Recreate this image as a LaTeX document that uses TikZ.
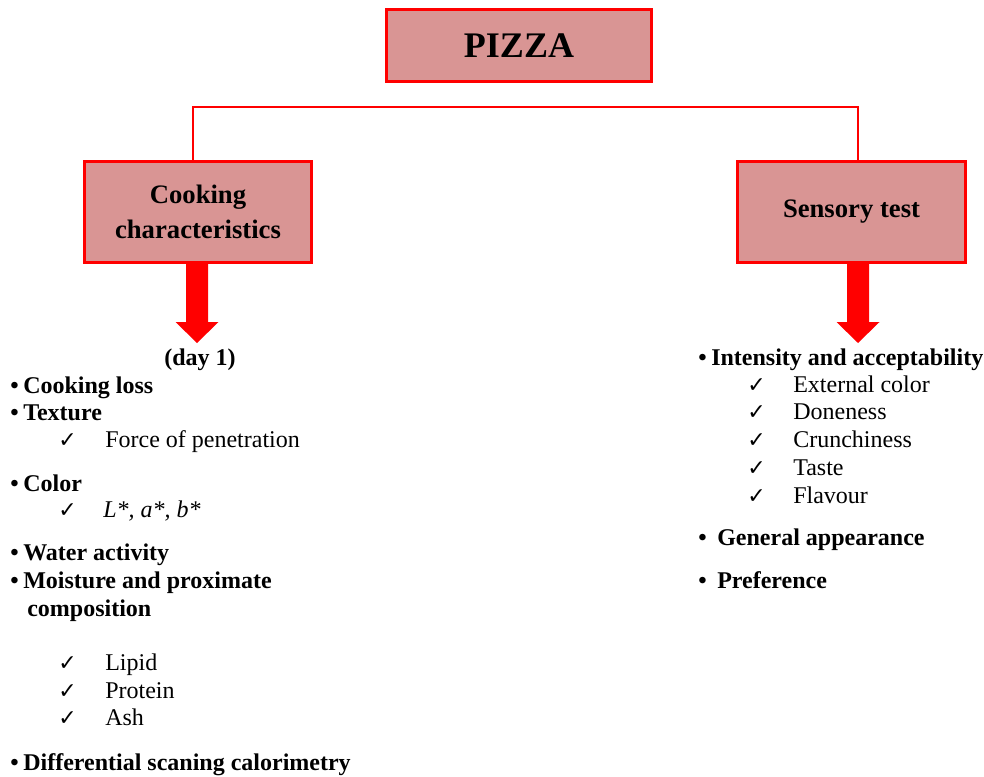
\documentclass[tikz,border=0pt]{standalone}
\usepackage{fontspec}
\setmainfont{Liberation Serif}
\newfontfamily\symfont{DejaVu Sans}
\usetikzlibrary{calc}
\definecolor{boxfill}{HTML}{D99594}
\definecolor{linered}{HTML}{FF0000}
\begin{document}
\begin{tikzpicture}[x=0.75pt,y=-0.75pt,
  topbox/.style={draw=linered, line width=2.25pt, fill=boxfill, inner sep=0pt, align=center,
    font=\bfseries\fontsize{20}{26.25}\selectfont},
  link/.style={draw=linered, line width=1.5pt},
  head/.style={anchor=base west, inner sep=0pt, font=\bfseries\fontsize{18}{21}\selectfont},
  item/.style={anchor=base west, inner sep=0pt, font=\fontsize{18}{21}\selectfont},
  tick/.style={anchor=base west, inner sep=0pt, font=\symfont\fontsize{16.5}{18}\selectfont},
  dot/.style={anchor=base west, inner sep=0pt, font=\bfseries\fontsize{18}{21}\selectfont},
  pics/downarr/.style={code={
    \fill[linered] (-11,0) -- (11,0) -- (11,58) -- (21.5,58) -- (0,79)
      -- (-21.5,58) -- (-11,58) -- cycle;}},
]
\useasboundingbox (0,0) rectangle (984,777);

% boxes
\node[topbox, minimum width=198.75pt, minimum height=54pt,
  font=\bfseries\fontsize{27}{32}\selectfont] (pizza) at (519,45.5) {PIZZA};
\node[topbox, minimum width=170.25pt, minimum height=75.75pt] (cook) at (198,212)
  {Cooking\\characteristics};
\node[topbox, minimum width=171pt, minimum height=75.75pt] (sens) at (851.5,212)
  {Sensory test};

% branch line
\coordinate (hl) at (193,107);
\coordinate (hr) at (858,107);
\draw[link] (hl |- cook.north) -- (hl) -- (hr) -- (hr |- sens.north);

% block arrows
\coordinate (ca) at ($(cook.south)+(-1,0)$);
\coordinate (sa) at ($(sens.south)+(6.5,0)$);
\pic at (ca) {downarr};
\pic at (sa) {downarr};

% left list
\node[head, anchor=base] (day) at (200,365) {(day 1)};
\node[dot] (b1) at (10,393) {•};
\node[head] (l1) at (23,393) {Cooking loss};
\node[dot] (b2) at (10,420) {•};
\node[head] (l2) at (23,420) {Texture};
\node[tick] (t1) at (58,447) {✓};
\node[item] (l3) at (105,447) {Force of penetration};
\node[dot] (b3) at (10,491) {•};
\node[head] (l4) at (23,491) {Color};
\node[tick] (t2) at (58,517) {✓};
\node[item] (l5) at (103,517) {\itshape L*, a*, b*};
\node[dot] (b4) at (10,560) {•};
\node[head] (l6) at (23,560) {Water activity};
\node[dot] (b5) at (10,588) {•};
\node[head] (l7) at (23,588) {Moisture and proximate};
\node[head] (l8) at (27,616) {composition};
\node[tick] (t3) at (58,670) {✓};
\node[item] (l9) at (105,670) {Lipid};
\node[tick] (t4) at (58,698) {✓};
\node[item] (l10) at (105,698) {Protein};
\node[tick] (t5) at (58,725) {✓};
\node[item] (l11) at (105,725) {Ash};
\node[dot] (b6) at (10,770) {•};
\node[head] (l12) at (23,770) {Differential scaning calorimetry};

% right list
\node[dot] (c1) at (698,365) {•};
\node[head] (r1) at (711,365) {Intensity and acceptability};
\node[tick] (u1) at (747,392) {✓};
\node[item] (r2) at (793,392) {External color};
\node[tick] (u2) at (747,419) {✓};
\node[item] (r3) at (793,419) {Doneness};
\node[tick] (u3) at (747,447) {✓};
\node[item] (r4) at (793,447) {Crunchiness};
\node[tick] (u4) at (747,475) {✓};
\node[item] (r5) at (793,475) {Taste};
\node[tick] (u5) at (747,503) {✓};
\node[item] (r6) at (793,503) {Flavour};
\node[dot] (c2) at (698,545) {•};
\node[head] (r7) at (717,545) {General appearance};
\node[dot] (c3) at (698,588) {•};
\node[head] (r8) at (717,588) {Preference};
\end{tikzpicture}
\end{document}
